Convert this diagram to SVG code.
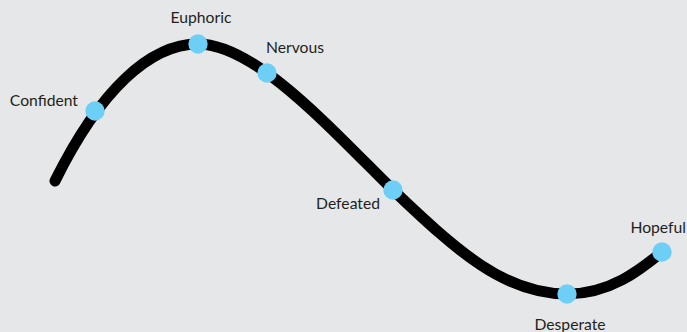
<svg xmlns="http://www.w3.org/2000/svg" width="687" height="332" viewBox="0 0 687 332">
<style>
.lbl{font-family:Lato,"Noto Sans",sans-serif;font-size:15.7px;fill:#231f20}
.dot{fill:#6dcff6}
.curve{fill:none;stroke:#000;stroke-width:11;stroke-linecap:round}
</style>
<rect width="687" height="332" fill="#e6e7e8"/>
<g id="connectors">
<path class="curve" d="M55,181 C100,90 150,44 198,44 C255,44 330,128 393,190 C458,252 505,294 567,294 C610,294 640,270 662,252"/>
</g>
<g id="confident"><circle class="dot" cx="95" cy="111" r="9.7"/><text class="lbl" x="78" y="106" text-anchor="end">Confident</text></g>
<g id="euphoric"><circle class="dot" cx="198" cy="44" r="9.7"/><text class="lbl" x="201" y="23" text-anchor="middle">Euphoric</text></g>
<g id="nervous"><circle class="dot" cx="267" cy="73" r="9.7"/><text class="lbl" x="266" y="53">Nervous</text></g>
<g id="defeated"><circle class="dot" cx="393" cy="190" r="9.7"/><text class="lbl" x="380" y="209" text-anchor="end">Defeated</text></g>
<g id="desperate"><circle class="dot" cx="567" cy="294" r="9.7"/><text class="lbl" x="570" y="330" text-anchor="middle">Desperate</text></g>
<g id="hopeful"><circle class="dot" cx="662" cy="252" r="9.7"/><text class="lbl" x="686" y="233" text-anchor="end">Hopeful</text></g>
</svg>
